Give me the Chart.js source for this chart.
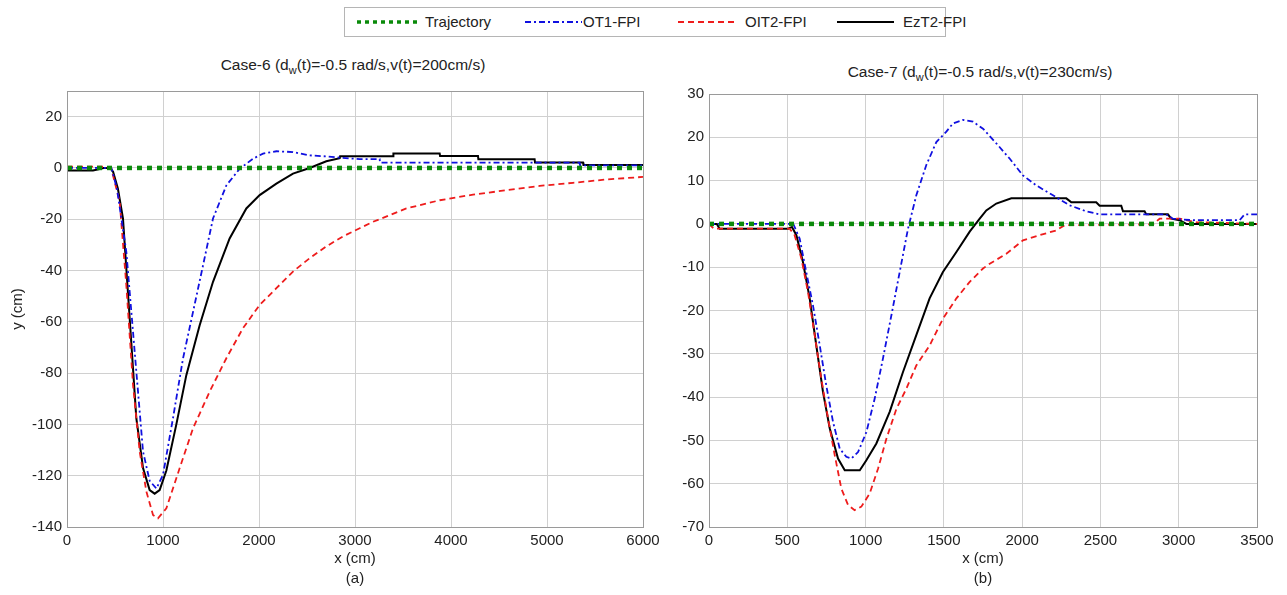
<!DOCTYPE html>
<html>
<head>
<meta charset="utf-8">
<script src="https://cdn.jsdelivr.net/npm/chart.js@4.4.1/dist/chart.umd.min.js"></script>
<style>
  body { margin: 0; background: #fff; font-family: "Liberation Sans", Arial, sans-serif; }
  #page { position: relative; width: 1287px; height: 595px; overflow: hidden; }
  canvas { position: absolute; }
  .titre { position: absolute; font-size: 15.5px; color: #222; white-space: nowrap; transform: translateX(-50%); }
  .titre sub { font-size: 11px; vertical-align: -4px; }
  #legende { position: absolute; left: 344px; top: 7px; width: 600px; height: 28px; border: 1px solid #b5b5b5; }
  #legende span { position: absolute; top: 5px; font-size: 15px; color: #222; white-space: nowrap; }
  #legende svg { position: absolute; top: 0; }
</style>
</head>
<body>
<div id="page">
  <div id="legende"></div>
  <div class="titre" style="left:353px; top:56px;">Case-6 (d<sub>w</sub>(t)=-0.5 rad/s,v(t)=200cm/s)</div>
  <div class="titre" style="left:980px; top:63px;">Case-7 (d<sub>w</sub>(t)=-0.5 rad/s,v(t)=230cm/s)</div>
  <canvas id="cas6" width="660" height="515" style="left:0; top:80px;"></canvas>
  <canvas id="cas7" width="627" height="515" style="left:660px; top:80px;"></canvas>
</div>
<script>
// noms des courbes
const nomsSeries = ["Trajectory", "OT1-FPI", "OIT2-FPI", "EzT2-FPI"];

// graduations
const cas6TicksX = [0, 1000, 2000, 3000, 4000, 5000, 6000];
const cas6TicksY = [-140, -120, -100, -80, -60, -40, -20, 0, 20];
const cas6MaxY = 30;
const cas7TicksX = [0, 500, 1000, 1500, 2000, 2500, 3000, 3500];
const cas7TicksY = [-70, -60, -50, -40, -30, -20, -10, 0, 10, 20, 30];

// Case-6 (a)
const cas6TrajX = [0, 6000];
const cas6TrajY = [0, 0];
const cas6Ot1X = [0, 462, 520, 618, 705, 792, 861, 931, 1000, 1104, 1208, 1313, 1417, 1521, 1660, 1799, 1938, 2042, 2181, 2354, 2528, 2701, 3049, 3257, 3260, 5340, 5345, 6000];
const cas6Ot1Y = [0, 0, -8, -32.7, -71.7, -110.6, -122, -125, -119.7, -97.6, -74.4, -56.1, -38, -19.7, -6.8, -0.3, 3.6, 5.6, 6.5, 6.2, 4.9, 4.5, 3.4, 3.4, 2.1, 2.1, 1, 1];
const cas6Oit2X = [0, 400, 462, 549, 618, 688, 757, 827, 896, 948, 1035, 1174, 1313, 1486, 1660, 1833, 2007, 2181, 2354, 2528, 2701, 2875, 3049, 3188, 3535, 3882, 4229, 4576, 4923, 5271, 5618, 6000];
const cas6Oit2Y = [0.5, 0.5, -0.3, -13.3, -45.8, -84.7, -110.6, -126.2, -135.3, -136.6, -132.7, -117, -101.5, -87.2, -74.2, -62.5, -53.4, -46.9, -40.4, -35.2, -30.6, -26.7, -23.5, -21, -15.8, -12.6, -10.4, -8.7, -7, -5.8, -4.5, -3.5];
const cas6EzX = [0, 270, 330, 380, 450, 480, 530, 583, 653, 722, 792, 861, 913, 965, 1035, 1139, 1243, 1382, 1521, 1694, 1868, 2007, 2181, 2354, 2528, 2701, 2841, 2845, 3396, 3400, 3882, 3886, 4281, 4285, 4871, 4875, 5375, 5380, 6000];
const cas6EzY = [-1, -1, -0.5, 0, 0, -1.5, -8, -19.7, -58.7, -97.6, -117, -125.6, -127, -125.6, -118, -100, -80.8, -61.3, -44.4, -27.5, -15.8, -10.6, -6.1, -2.2, 0, 2.6, 3.8, 4.6, 4.6, 5.6, 5.6, 4.7, 4.7, 3.4, 3.4, 2.1, 2.1, 1.1, 1.1];

// Case-7 (b)
const cas7TrajX = [0, 3500];
const cas7TrajY = [0, 0];
const cas7Ot1X = [0, 538, 579, 621, 664, 707, 749, 792, 835, 877, 909, 952, 1005, 1058, 1111, 1165, 1218, 1271, 1324, 1388, 1452, 1516, 1558, 1622, 1686, 1750, 1835, 1920, 2005, 2090, 2197, 2303, 2410, 2495, 2920, 2963, 3091, 3389, 3421, 3500];
const cas7Ot1Y = [0, 0, -3.4, -11.1, -18.8, -28, -37.3, -45.7, -51.9, -53.8, -54.2, -52.7, -48.1, -40.4, -31.1, -21.1, -11.1, -1.1, 6.6, 13.6, 18.9, 21.3, 23.2, 24, 23.6, 22, 18.6, 15.1, 11.2, 8.9, 6.6, 4.3, 2.9, 2.2, 2.2, 1.2, 0.85, 0.85, 2.2, 2.2];
const cas7Oit2X = [0, 30, 515, 547, 590, 632, 675, 717, 760, 803, 845, 888, 930, 973, 1026, 1080, 1133, 1197, 1260, 1324, 1409, 1494, 1580, 1665, 1750, 1793, 1899, 2005, 2112, 2218, 2271, 2835, 2878, 3006, 3112, 3500];
const cas7Oit2Y = [0, -1.1, -1.1, -2.6, -8, -15.7, -25.7, -35.7, -44.9, -53.4, -61.1, -64.9, -66.1, -65.3, -62.3, -56.5, -49.6, -42.7, -38.1, -32.7, -28.1, -21.9, -17.2, -13.4, -10.3, -9.2, -6.9, -3.8, -2.6, -1.5, -0.3, -0.1, 1.2, 1.2, 0.4, 0];
const cas7EzX = [0, 50, 68, 505, 530, 558, 600, 643, 685, 728, 771, 824, 867, 963, 1005, 1069, 1154, 1239, 1324, 1409, 1494, 1580, 1665, 1729, 1771, 1835, 1931, 2282, 2314, 2473, 2495, 2633, 2644, 2782, 2793, 2931, 2952, 3006, 3049, 3500];
const cas7EzY = [0, 0, -1.1, -1.1, -0.7, -2.6, -8.8, -17.2, -28, -38.8, -47.2, -54.2, -56.9, -56.9, -54.6, -50.7, -43.4, -34.2, -25.7, -17.2, -11.1, -6.5, -1.8, 1.2, 3.1, 4.7, 5.9, 5.9, 5, 5, 4.2, 4.2, 2.9, 2.9, 2.2, 2.2, 1.2, 0.85, 0, 0];

// styles des courbes (même ordre que nomsSeries)
const styles = [
  { color: "#0a8a0a", width: 4.5, dash: [5, 5] },
  { color: "#1010e0", width: 1.8, dash: [6, 3, 2, 3] },
  { color: "#ee1c1c", width: 1.8, dash: [6, 4] },
  { color: "#000000", width: 2, dash: [] }
];

const couleurTexte = "#222";
const couleurGrille = "#d0d0d0";

function points(xs, ys) {
  return xs.map((x, i) => ({ x: x, y: ys[i] }));
}

function datasets(series) {
  return series.map((s, i) => ({
    label: nomsSeries[i],
    data: points(s[0], s[1]),
    borderColor: styles[i].color,
    borderWidth: styles[i].width,
    borderDash: styles[i].dash,
    borderCapStyle: "butt",
    pointRadius: 0,
    tension: 0,
    fill: false
  }));
}

// cadre autour de la zone de tracé
const cadre = {
  id: "cadre",
  afterDraw(chart) {
    const a = chart.chartArea;
    const ctx = chart.ctx;
    ctx.save();
    ctx.strokeStyle = "#9a9a9a";
    ctx.lineWidth = 1;
    ctx.strokeRect(Math.round(a.left) + 0.5, Math.round(a.top) + 0.5, Math.round(a.right - a.left), Math.round(a.bottom - a.top));
    ctx.restore();
  }
};

function options(ticksX, ticksY, maxY, titreX, titreY, largeurY, padHaut, padDroite) {
  const police = { family: "'Liberation Sans', Arial, sans-serif", size: 15 };
  const policeTitre = { family: "'Liberation Sans', Arial, sans-serif", size: 15, lineHeight: 1.28 };
  return {
    responsive: false,
    animation: false,
    layout: { padding: { top: padHaut, right: padDroite, left: 0, bottom: 0 } },
    plugins: { legend: { display: false }, tooltip: { enabled: false } },
    scales: {
      x: {
        type: "linear",
        min: ticksX[0],
        max: ticksX[ticksX.length - 1],
        afterBuildTicks: s => { s.ticks = ticksX.map(v => ({ value: v })); },
        afterFit: s => { s.height = 68; s.paddingLeft = 0; s.paddingRight = 0; },
        grid: { color: couleurGrille, drawTicks: false },
        border: { display: false },
        ticks: { padding: 5, color: couleurTexte, font: police, autoSkip: false, maxRotation: 0, callback: v => String(v) },
        title: { display: true, text: titreX, color: couleurTexte, font: policeTitre, padding: { top: 0, bottom: 7 } }
      },
      y: {
        type: "linear",
        min: ticksY[0],
        max: maxY,
        afterBuildTicks: s => { s.ticks = ticksY.map(v => ({ value: v })); },
        afterFit: s => { s.width = largeurY; s.paddingTop = 0; s.paddingBottom = 0; },
        grid: { color: couleurGrille, drawTicks: false },
        border: { display: false },
        ticks: { padding: 5, color: couleurTexte, font: police, autoSkip: false, callback: v => String(v) },
        title: { display: titreY !== "", text: titreY, color: couleurTexte, font: policeTitre, padding: { top: 8, bottom: 0 } }
      }
    }
  };
}

new Chart(document.getElementById("cas6"), {
  type: "line",
  data: {
    datasets: datasets([
      [cas6TrajX, cas6TrajY],
      [cas6Ot1X, cas6Ot1Y],
      [cas6Oit2X, cas6Oit2Y],
      [cas6EzX, cas6EzY]
    ])
  },
  options: options(cas6TicksX, cas6TicksY, cas6MaxY, ["x (cm)", "(a)"], "y (cm)", 67, 11, 17),
  plugins: [cadre]
});

new Chart(document.getElementById("cas7"), {
  type: "line",
  data: {
    datasets: datasets([
      [cas7TrajX, cas7TrajY],
      [cas7Ot1X, cas7Ot1Y],
      [cas7Oit2X, cas7Oit2Y],
      [cas7EzX, cas7EzY]
    ])
  },
  options: options(cas7TicksX, cas7TicksY, cas7TicksY[cas7TicksY.length - 1], ["x (cm)", "(b)"], "", 49, 14, 30),
  plugins: [cadre]
});

// légende commune en HTML
const legende = document.getElementById("legende");
const posEchantillon = [12, 180, 333, 492];
const posTexte = [80, 238, 400, 558];
nomsSeries.forEach((nom, i) => {
  const st = styles[i];
  const svg = document.createElementNS("http://www.w3.org/2000/svg", "svg");
  svg.setAttribute("width", "62");
  svg.setAttribute("height", "28");
  svg.style.left = posEchantillon[i] + "px";
  const ligne = document.createElementNS("http://www.w3.org/2000/svg", "line");
  ligne.setAttribute("x1", "0");
  ligne.setAttribute("x2", i === 0 ? "62" : "57");
  ligne.setAttribute("y1", "14");
  ligne.setAttribute("y2", "14");
  ligne.setAttribute("stroke", st.color);
  ligne.setAttribute("stroke-width", i === 0 ? 3.5 : st.width);
  if (st.dash.length) ligne.setAttribute("stroke-dasharray", i === 0 ? "4 4" : st.dash.join(" "));
  svg.appendChild(ligne);
  legende.appendChild(svg);
  const txt = document.createElement("span");
  txt.textContent = nom;
  txt.style.left = posTexte[i] + "px";
  legende.appendChild(txt);
});
</script>
</body>
</html>
